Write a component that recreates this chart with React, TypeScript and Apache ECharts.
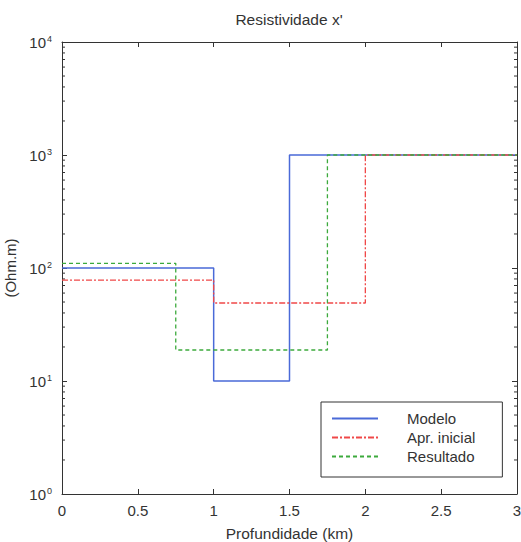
import React, { useEffect, useRef } from "react";
import * as echarts from "echarts";

const titleText = "Resistividade x'";
const xName = "Profundidade (km)";
const yName = "(Ohm.m)";
const seriesNames = ["Modelo", "Apr. inicial", "Resultado"];

const depthModelo = [0, 1, 1.5, 3];
const resModelo = [100, 10, 1000, 1000];
const depthInicial = [0, 1, 2, 3];
const resInicial = [78, 49, 1000, 1000];
const depthResultado = [0, 0.75, 1.75, 3];
const resResultado = [110, 18.8, 1000, 1000];

const decades = [0, 1, 2, 3];
const minorMult = [2, 3, 4, 5, 6, 7, 8, 9];

const FONT = "Liberation Sans, Arial, sans-serif";
const TXT = "#333";
const AX = "#333";

export default function App() {
  const ref = useRef<HTMLDivElement>(null);
  useEffect(() => {
    if (!ref.current) return;
    const chart = echarts.init(ref.current, null, { renderer: "svg" });
    const pair = (xs: number[], ys: number[]) => xs.map((x, i) => [x, ys[i]]);
    const minorVals: number[][] = [];
    decades.forEach((d) => minorMult.forEach((m) => minorVals.push([0, m * Math.pow(10, d)])));
    const supLabel = (v: number) => `10{s|${Math.round(Math.log10(v))}}`;
    const tick = { show: true, inside: true, length: 5, lineStyle: { color: AX, width: 1 } };
    chart.setOption({
      animation: false,
      backgroundColor: "#fff",
      title: {
        text: titleText,
        left: 284,
        textAlign: "center",
        top: 6,
        textStyle: { fontFamily: FONT, fontSize: 15.5, fontWeight: "normal", color: TXT },
      },
      grid: { left: 62, right: 4, top: 42, bottom: 48, outerBoundsMode: "none", containLabel: false },
      legend: {
        orient: "vertical",
        left: 321,
        top: 402,
        data: seriesNames,
        backgroundColor: "#fff",
        borderColor: "#333",
        borderWidth: 1,
        borderRadius: 0,
        padding: [9, 27, 13, 10],
        itemWidth: 46,
        itemHeight: 12,
        itemGap: 4,
        itemStyle: { opacity: 0 },
        textStyle: { fontFamily: FONT, fontSize: 15, color: TXT, padding: [0, 0, 0, 24] },
      },
      xAxis: [
        {
          type: "value",
          min: 0,
          max: 3,
          interval: 0.5,
          name: xName,
          nameLocation: "middle",
          nameGap: 31,
          nameTextStyle: { fontFamily: FONT, fontSize: 15.5, color: TXT },
          axisLine: { show: true, lineStyle: { color: AX } },
          axisTick: tick,
          axisLabel: { fontFamily: FONT, fontSize: 15, color: TXT, margin: 9 },
          splitLine: { show: false },
        },
        {
          type: "value",
          position: "top",
          min: 0,
          max: 3,
          interval: 0.5,
          axisLine: { show: true, onZero: false, lineStyle: { color: AX } },
          axisTick: tick,
          axisLabel: { show: false },
          splitLine: { show: false },
        },
      ],
      yAxis: [
        {
          type: "log",
          logBase: 10,
          min: 1,
          max: 10000,
          name: yName,
          nameLocation: "middle",
          nameGap: 41,
          nameRotate: 90,
          nameTextStyle: { fontFamily: FONT, fontSize: 15, color: TXT },
          axisLine: { show: true, lineStyle: { color: AX } },
          axisTick: tick,
          axisLabel: {
            fontFamily: FONT,
            fontSize: 15,
            color: TXT,
            margin: 10,
            formatter: supLabel,
            rich: {
              s: { fontFamily: FONT, fontSize: 9, color: TXT, verticalAlign: "top", lineHeight: 10, padding: [0, 0, 7, 1] },
            },
          },
          splitLine: { show: false },
        },
        {
          type: "log",
          logBase: 10,
          min: 1,
          max: 10000,
          position: "right",
          axisLine: { show: true, onZero: false, lineStyle: { color: AX } },
          axisTick: tick,
          axisLabel: { show: false },
          splitLine: { show: false },
        },
      ],
      series: [
        {
          type: "custom",
          silent: true,
          clip: false,
          data: minorVals,
          encode: { x: 0, y: 1 },
          renderItem: (params: any, api: any) => {
            const v = api.value(1);
            const l = api.coord([0, v]);
            const r = api.coord([3, v]);
            const st = { stroke: AX, lineWidth: 1 };
            return {
              type: "group",
              children: [
                { type: "line", shape: { x1: l[0], y1: l[1], x2: l[0] + 3, y2: l[1] }, style: st },
                { type: "line", shape: { x1: r[0], y1: r[1], x2: r[0] - 3, y2: r[1] }, style: st },
              ],
            };
          },
        },
        {
          name: seriesNames[0],
          type: "line",
          step: "end",
          symbol: "none",
          data: pair(depthModelo, resModelo),
          lineStyle: { color: "#4a6ad8", width: 1.5, type: "solid" },
          itemStyle: { color: "#4a6ad8" },
        },
        {
          name: seriesNames[1],
          type: "line",
          step: "end",
          symbol: "none",
          data: pair(depthInicial, resInicial),
          lineStyle: { color: "#f04848", width: 1.3, type: [6, 2, 2, 2] },
          itemStyle: { color: "#f04848" },
        },
        {
          name: seriesNames[2],
          type: "line",
          step: "end",
          symbol: "none",
          data: pair(depthResultado, resResultado),
          lineStyle: { color: "#3caa3c", width: 1.3, type: [4, 3] },
          itemStyle: { color: "#3caa3c" },
        },
      ],
    });
    return () => chart.dispose();
  }, []);
  return <div ref={ref} style={{ width: 521, height: 542, position: "absolute", left: 0, top: 0 }} />;
}
